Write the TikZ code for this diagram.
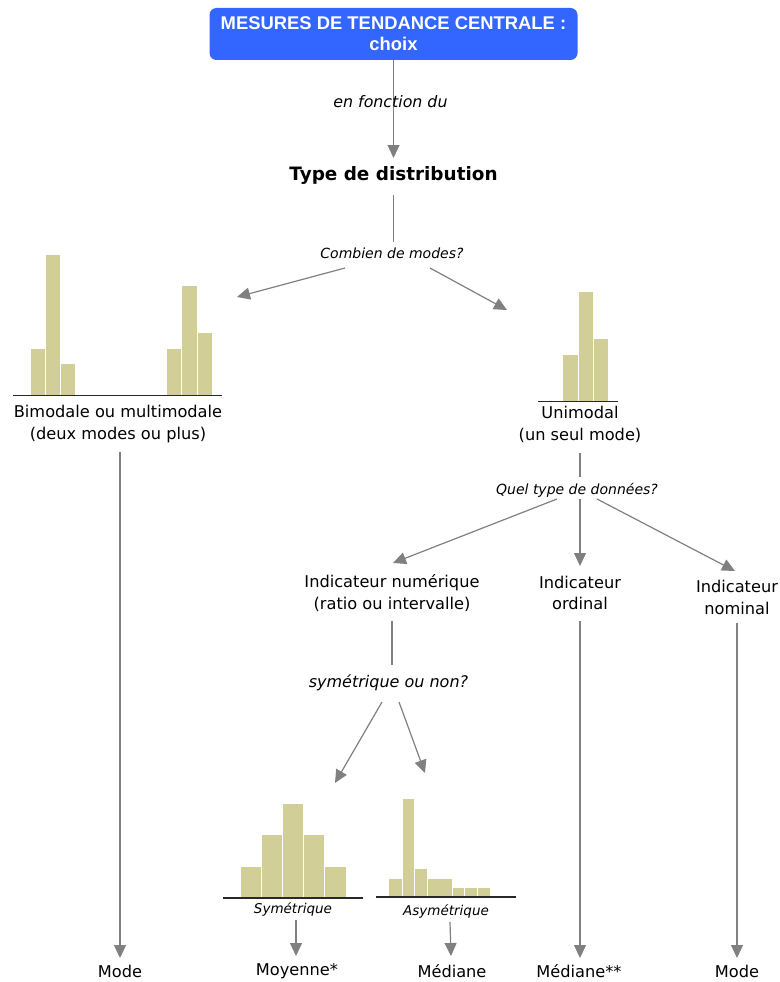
\documentclass[tikz,border=0pt]{standalone}
\usepackage{fontspec}
\setmainfont{DejaVu Sans}
\newfontfamily\titlefont{Liberation Sans}
\usetikzlibrary{arrows.meta,calc}
\definecolor{boxblue}{RGB}{51,102,255}
\definecolor{conncol}{RGB}{128,128,128}
\definecolor{barcol}{RGB}{210,206,152}
\definecolor{axiscol}{RGB}{40,40,40}
\tikzset{
  lk/.style={draw=conncol, line width=1.2pt},
  ar/.style={lk, -{Triangle[length=13pt,width=12pt]}},
  body/.style={font=\fontsize{16.2}{21.5}\selectfont, align=center, inner sep=0pt},
  one/.style={text height=12pt, text depth=3.5pt},
  lab/.style={font=\fontsize{14}{17}\selectfont\itshape, inner sep=0pt, text height=10.5pt, text depth=3pt},
  labbig/.style={lab, font=\fontsize{15.8}{18}\selectfont\itshape},
  labsmall/.style={lab, font=\fontsize{13.5}{16}\selectfont\itshape},
  titlebox/.style={fill=boxblue, rounded corners=7pt, minimum width=368pt, minimum height=52pt,
    text=white, font=\titlefont\bfseries\fontsize{18.4}{21}\selectfont, align=center, inner sep=0pt},
  axisline/.style={draw=axiscol, line width=1.4pt},
}
\begin{document}
\begin{tikzpicture}[x=1pt,y=-1pt]
\useasboundingbox (0,0) rectangle (779,982);

% histograms
\foreach \a/\b/\t in {31/45/349, 46/60/255, 61/75/364, 167/181/349, 182/197/286, 198/212/333}
  \fill[barcol] (\a,\t) rectangle (\b,395.5);
\draw[axisline] (13,395.5) -- (222,395.5);
\foreach \a/\b/\t in {563/578/355, 579/593/292, 594/608/339}
  \fill[barcol] (\a,\t) rectangle (\b,401.5);
\draw[axisline] (538,401.5) -- (618,401.5);
\foreach \a/\b/\t in {241/261/867, 262/282/835, 283/303/804, 304/324/835, 325/346/867}
  \fill[barcol] (\a,\t) rectangle (\b,898);
\draw[axisline] (223,898) -- (363,898);
\foreach \a/\b/\t in {389/402/879, 402.8/414/799, 415/427/869, 427.8/439.5/879, 440.3/452/879, 452.8/464/888, 465/477/888, 478/490/888}
  \fill[barcol] (\a,\t) rectangle (\b,897);
\draw[axisline] (376,897) -- (516,897);

% nodes
\node[titlebox] (title) at (393.5,34) {MESURES DE TENDANCE CENTRALE :\\choix};
\node[font=\bfseries\fontsize{18.4}{22}\selectfont, inner sep=0pt, text height=13.5pt, text depth=4pt] (type) at (393.5,176) {Type de distribution};
\draw[ar] (title.south) -- ($(type)+(0,-18)$);
\node[labbig] (fonc) at (390.5,104) {en fonction du};

\node[lab] (comb) at (392,255) {Combien de modes?};
\draw[lk] ($(type)+(0,19)$) -- ($(comb)+(1.5,-13)$);
\coordinate (bitip) at (237,297);
\coordinate (unitip) at (507,310);
\draw[ar] ($(comb)+(-47,13)$) -- (bitip);
\draw[ar] ($(comb)+(38,13)$) -- (unitip);

\node[body] (bi) at (118,424) {Bimodale ou multimodale\\(deux modes ou plus)};
\node[body, one] (mode1) at (120,973) {Mode};
\draw[ar] ($(bi)+(2,28)$) -- ($(mode1)+(0,-15)$);

\node[body] (uni) at (580,424.5) {Unimodal\\(un seul mode)};
\node[lab] (quel) at (577,491) {Quel type de données?};
\draw[lk] ($(uni)+(0,28)$) -- ($(quel)+(3,-14)$);
\node[body] (num) at (392,593) {Indicateur numérique\\(ratio ou intervalle)};
\node[body] (ord) at (580,593) {Indicateur\\ordinal};
\node[body] (nom) at (737,597.5) {Indicateur\\nominal};
\draw[ar] ($(quel)+(-20,8)$) -- ($(num)+(1,-30)$);
\draw[ar] ($(quel)+(3,8)$) -- ($(ord)+(0,-27)$);
\draw[ar] ($(quel)+(20,8)$) -- ($(nom)+(-2,-26.5)$);

\node[lab, font=\fontsize{16}{19}\selectfont\itshape] (sym) at (388.5,684) {symétrique ou non?};
\draw[lk] ($(num)+(0,28)$) -- ($(sym)+(3.5,-19)$);
\coordinate (symtip) at (335,783);
\coordinate (asymtip) at (425,773);
\draw[ar] ($(sym)+(-6.5,18)$) -- (symtip);
\draw[ar] ($(sym)+(10.5,18)$) -- (asymtip);

\node[labsmall] (symlab) at (293,910) {Symétrique};
\node[labsmall] (asymlab) at (446,912) {Asymétrique};
\node[body, one] (moy) at (297,971) {Moyenne*};
\node[body, one] (med1) at (452,973) {Médiane};
\node[body, one] (med2) at (579,973) {Médiane**};
\node[body, one] (mode2) at (737,973) {Mode};
\draw[ar] ($(symlab)+(3,10)$) -- ($(moy)+(-1,-15)$);
\draw[ar] ($(asymlab)+(4,10)$) -- ($(med1)+(-1,-17)$);
\draw[ar] ($(ord)+(0,28)$) -- ($(med2)+(1,-15)$);
\draw[ar] ($(nom)+(0,25)$) -- ($(mode2)+(0,-15)$);
\end{tikzpicture}
\end{document}
